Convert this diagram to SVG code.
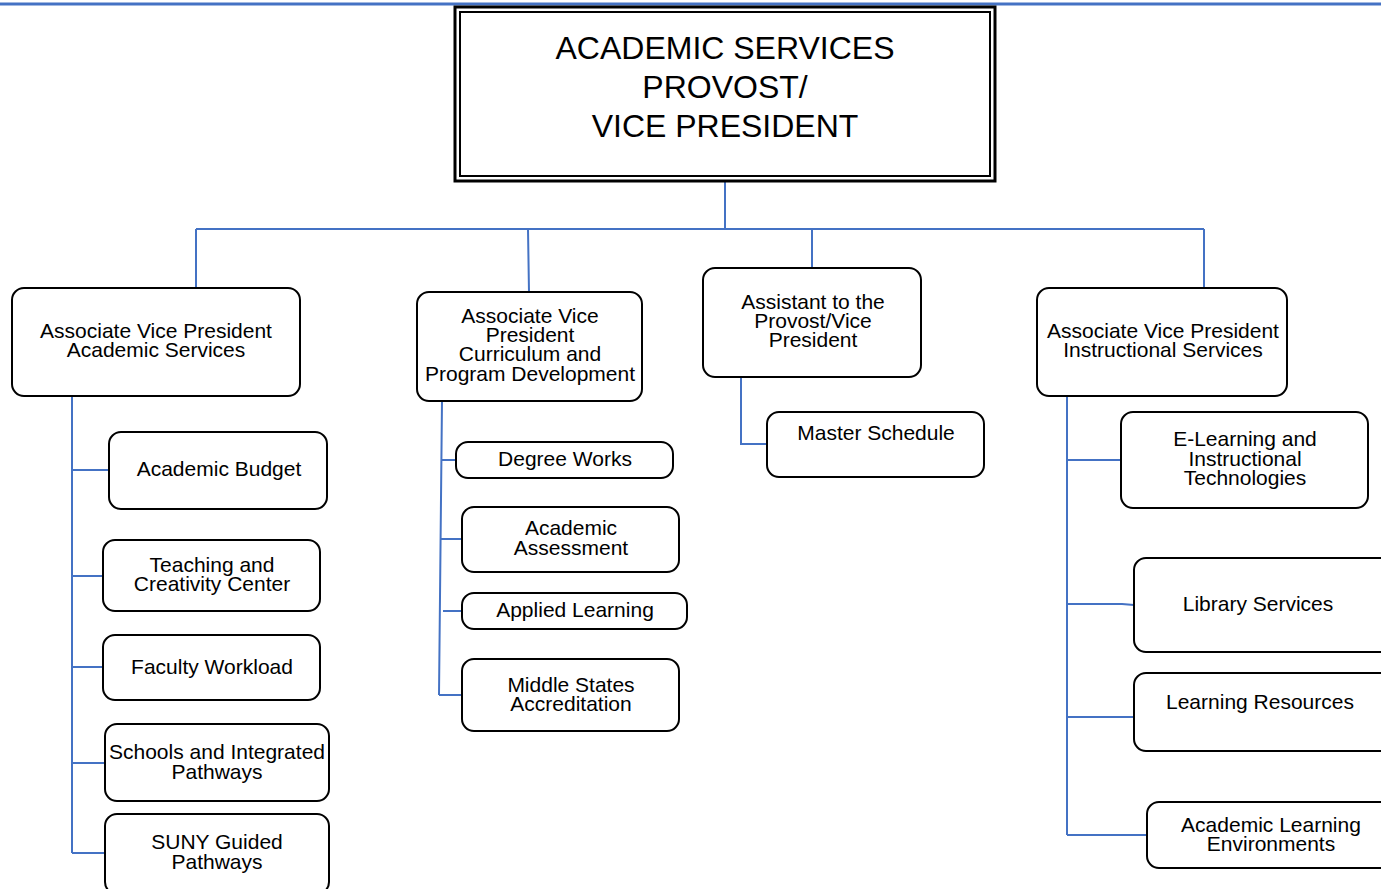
<svg xmlns="http://www.w3.org/2000/svg" width="1381" height="889" viewBox="0 0 1381 889">
<style>
.bx{fill:#fff;stroke:#000;stroke-width:2}
.t{font-family:"Liberation Sans",Arial,sans-serif;font-size:21px;fill:#000;text-anchor:middle}
.tt{font-family:"Liberation Sans",Arial,sans-serif;font-size:32px;fill:#000;text-anchor:middle}
.c{fill:none;stroke:#4472C4;stroke-width:2}
</style>
<rect width="1381" height="889" fill="#fff"/>
<line x1="0" y1="4" x2="1381" y2="4" stroke="#4472C4" stroke-width="3"/>
<g id="connectors" class="c">
<path d="M725,181V229M196,229H1204M196,229V288M528,229L529,292M812,229V268M1204,229V288"/>
<path d="M72,396V853M72,470H109M72,576H103M72,667H103M72,763H105M72,853H105"/>
<path d="M442,401L439,695M442,460H456M441,539H462M443,611H462M439,695H462"/>
<path d="M741,377V444H767"/>
<path d="M1067,396V835M1067,396H1081M1067,460H1121M1067,604H1122L1134,605M1067,717H1134M1067,835H1147"/>
</g>
<g id="top">
<rect x="455" y="7" width="540" height="174" fill="#fff" stroke="#000" stroke-width="3"/>
<rect x="460" y="12" width="530" height="164" fill="none" stroke="#000" stroke-width="2"/>
<text class="tt"><tspan x="725" y="59">ACADEMIC SERVICES</tspan><tspan x="725" y="98">PROVOST/</tspan><tspan x="725" y="137">VICE PRESIDENT</tspan></text>
</g>
<g id="avp-academic"><rect class="bx" x="12" y="288" width="288" height="108" rx="12"/>
<text class="t"><tspan x="156" y="338">Associate Vice President</tspan><tspan x="156" y="357">Academic Services</tspan></text></g>
<g id="avp-curriculum"><rect class="bx" x="417" y="292" width="225" height="109" rx="12"/>
<text class="t"><tspan x="530" y="323">Associate Vice</tspan><tspan x="530" y="342">President</tspan><tspan x="530" y="361">Curriculum and</tspan><tspan x="530" y="381">Program Development</tspan></text></g>
<g id="assistant"><rect class="bx" x="703" y="268" width="218" height="109" rx="12"/>
<text class="t"><tspan x="813" y="309">Assistant to the</tspan><tspan x="813" y="328">Provost/Vice</tspan><tspan x="813" y="347">President</tspan></text></g>
<g id="avp-instructional"><rect class="bx" x="1037" y="288" width="250" height="108" rx="12"/>
<text class="t"><tspan x="1163" y="338">Associate Vice President</tspan><tspan x="1163" y="357">Instructional Services</tspan></text></g>
<g id="academic-budget"><rect class="bx" x="109" y="432" width="218" height="77" rx="12"/>
<text class="t" x="219" y="476">Academic Budget</text></g>
<g id="teaching"><rect class="bx" x="103" y="540" width="217" height="71" rx="12"/>
<text class="t"><tspan x="212" y="572">Teaching and</tspan><tspan x="212" y="591">Creativity Center</tspan></text></g>
<g id="faculty-workload"><rect class="bx" x="103" y="635" width="217" height="65" rx="12"/>
<text class="t" x="212" y="674">Faculty Workload</text></g>
<g id="schools"><rect class="bx" x="105" y="724" width="224" height="77" rx="12"/>
<text class="t"><tspan x="217" y="759">Schools and Integrated</tspan><tspan x="217" y="779">Pathways</tspan></text></g>
<g id="suny"><rect class="bx" x="105" y="814" width="224" height="80" rx="12"/>
<text class="t"><tspan x="217" y="849">SUNY Guided</tspan><tspan x="217" y="869">Pathways</tspan></text></g>
<g id="degree-works"><rect class="bx" x="456" y="442" width="217" height="36" rx="12"/>
<text class="t" x="565" y="466">Degree Works</text></g>
<g id="assessment"><rect class="bx" x="462" y="507" width="217" height="65" rx="12"/>
<text class="t"><tspan x="571" y="535">Academic</tspan><tspan x="571" y="555">Assessment</tspan></text></g>
<g id="applied-learning"><rect class="bx" x="462" y="593" width="225" height="36" rx="12"/>
<text class="t" x="575" y="617">Applied Learning</text></g>
<g id="middle-states"><rect class="bx" x="462" y="659" width="217" height="72" rx="12"/>
<text class="t"><tspan x="571" y="692">Middle States</tspan><tspan x="571" y="711">Accreditation</tspan></text></g>
<g id="master-schedule"><rect class="bx" x="767" y="412" width="217" height="65" rx="12"/>
<text class="t" x="876" y="440">Master Schedule</text></g>
<g id="elearning"><rect class="bx" x="1121" y="412" width="247" height="96" rx="12"/>
<text class="t"><tspan x="1245" y="446">E-Learning and</tspan><tspan x="1245" y="466">Instructional</tspan><tspan x="1245" y="485">Technologies</tspan></text></g>
<g id="library"><rect class="bx" x="1134" y="558" width="258" height="94" rx="12"/>
<text class="t" x="1258" y="611">Library Services</text></g>
<g id="learning-resources"><rect class="bx" x="1134" y="673" width="258" height="78" rx="12"/>
<text class="t" x="1260" y="709">Learning Resources</text></g>
<g id="academic-learning"><rect class="bx" x="1147" y="802" width="245" height="66" rx="12"/>
<text class="t"><tspan x="1271" y="832">Academic Learning</tspan><tspan x="1271" y="851">Environments</tspan></text></g>
</svg>
